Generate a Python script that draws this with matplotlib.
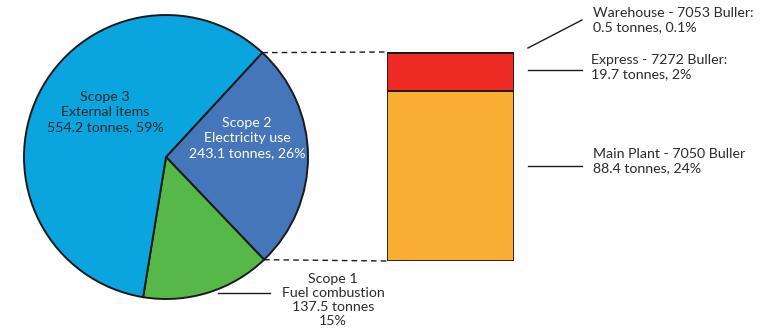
import matplotlib.pyplot as plt
import numpy as np

# emissions by scope (tonnes CO2e)
scope_names = ["Scope 2", "Scope 1", "Scope 3"]
scope_desc = ["Electricity use", "Fuel combustion", "External items"]
scope_tonnes = [243.1, 137.5, 554.2]
scope_pct = [26, 15, 59]
scope_colors = ["#4676ba", "#56b848", "#0aa4de"]

# electricity use split by site (bottom to top)
site_names = ["Main Plant - 7050 Buller", "Express - 7272 Buller", "Warehouse - 7053 Buller"]
site_tonnes = [88.4, 19.7, 0.5]
site_pct = ["24%", "2%", "0.1%"]
site_colors = ["#f9ae33", "#ee2b24", "#ee2b24"]

plt.rcParams["font.family"] = ["Lato", "DejaVu Sans"]
TEXT = "#2b2b2b"
LINE = "#1a1a1a"

W, H = 773, 331
fig = plt.figure(figsize=(W / 100, H / 100), dpi=100)

# pixel-space canvas, y going up
ax = fig.add_axes([0, 0, 1, 1])

cx, cy, r = 166, 174, 142
wedges, _ = ax.pie(scope_tonnes, colors=scope_colors, startangle=47.3, counterclock=False,
                   center=(cx, cy), radius=r, frame=True,
                   wedgeprops=dict(edgecolor=LINE, linewidth=1.4))
ax.set_xlim(0, W)
ax.set_ylim(0, H)
ax.set_aspect("equal")
ax.axis("off")

def edge_point(theta):
    t = np.deg2rad(theta)
    return cx + r * np.cos(t), cy + r * np.sin(t)

# stacked bar for the electricity breakdown
bar_left, bar_bottom, bar_w, bar_h = 387, 70, 127, 209
bx = fig.add_axes([bar_left / W, bar_bottom / H, bar_w / W, bar_h / H])
bottom = 0
for val, col in zip(site_tonnes, site_colors):
    bx.bar(0.5, val, width=1.0, bottom=bottom, color=col, edgecolor=LINE, linewidth=1.3)
    bottom += val
bx.set_xlim(0, 1)
bx.set_ylim(0, sum(site_tonnes))
bx.axis("off")

# dashed connectors from the Scope 2 wedge to the bar
top_pt = edge_point(wedges[0].theta2)
bot_pt = edge_point(wedges[0].theta1)
ax.plot([top_pt[0], bar_left], [top_pt[1], bar_bottom + bar_h], ls=(0, (4, 3)), color=LINE, lw=1.0)
ax.plot([bot_pt[0], bar_left], [bot_pt[1], bar_bottom], ls=(0, (4, 3)), color=LINE, lw=1.0)

fs = 10.2
ls = 1.3
ax.text(105, 219, f"{scope_names[2]}\n{scope_desc[2]}\n{scope_tonnes[2]} tonnes, {scope_pct[2]}%",
        ha="center", va="center", fontsize=fs, color=TEXT, linespacing=ls)
ax.text(247, 193, f"{scope_names[0]}\n{scope_desc[0]}\n{scope_tonnes[0]} tonnes, {scope_pct[0]}%",
        ha="center", va="center", fontsize=fs, color="white", linespacing=ls)
ax.text(333, 31, f"{scope_names[1]}\n{scope_desc[1]}\n{scope_tonnes[1]} tonnes\n{scope_pct[1]}%",
        ha="center", va="center", fontsize=fs, color=TEXT, linespacing=1.2)
ax.plot([218, 270], [38, 38], color=LINE, lw=1.0)

# site labels with leader lines
ax.plot([528, 582], [283, 311], color=LINE, lw=1.0)
ax.plot([528, 582], [261, 261], color=LINE, lw=1.0)
ax.plot([528, 582], [165, 165], color=LINE, lw=1.0)
ax.text(593, 311, f"{site_names[2]}:\n{site_tonnes[2]} tonnes, {site_pct[2]}",
        ha="left", va="center", fontsize=fs, color=TEXT, linespacing=1.15)
ax.text(591, 264, f"{site_names[1]}:\n{site_tonnes[1]} tonnes, {site_pct[1]}",
        ha="left", va="center", fontsize=fs, color=TEXT, linespacing=1.15)
ax.text(593, 170, f"{site_names[0]}\n{site_tonnes[0]} tonnes, {site_pct[0]}",
        ha="left", va="center", fontsize=fs, color=TEXT, linespacing=1.15)

fig.savefig("out.png", dpi=100)
